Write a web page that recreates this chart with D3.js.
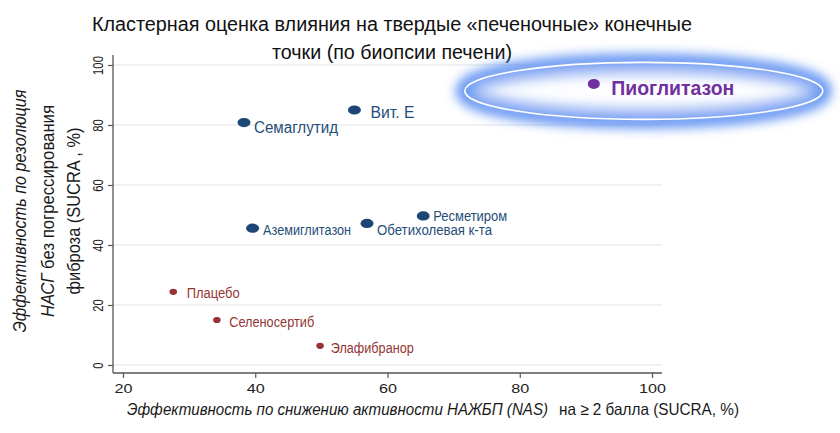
<!DOCTYPE html>
<html>
<head>
<meta charset="utf-8">
<script src="https://cdn.jsdelivr.net/npm/d3@7"></script>
<style>
  html, body { margin: 0; padding: 0; background: #fff; }
  svg { display: block; font-family: "Liberation Sans Narrow", "Liberation Sans", Arial, sans-serif; }
</style>
</head>
<body>
<svg id="chart" width="840" height="433"></svg>
<script>
// ---- data ----
const names = ["Пиоглитазон", "Вит. Е", "Семаглутид", "Аземиглитазон", "Обетихолевая к-та", "Ресметиром", "Плацебо", "Селеносертиб", "Элафибранор"];
const nasSucra = [91.2, 55.0, 38.3, 39.6, 56.9, 65.4, 27.6, 34.2, 49.8];
const fibSucra = [93.7, 85.0, 80.8, 45.6, 47.2, 49.7, 24.4, 15.0, 6.4];
const cluster = ["best", "good", "good", "good", "good", "good", "poor", "poor", "poor"];
const xTicks = [20, 40, 60, 80, 100];
const yTicks = [0, 20, 40, 60, 80, 100];
const titleLines = ["Кластерная оценка влияния на твердые «печеночные» конечные", "точки (по биопсии печени)"];

// ---- styles ----
const clusterStyle = {
  best: { dot: "#6f2f9f", text: "#7030a0", rx: 6, ry: 5, weight: "bold" },
  good: { dot: "#1b4675", text: "#1f4e79", rx: 6.5, ry: 4.6, weight: "normal" },
  poor: { dot: "#973236", text: "#943634", rx: 3.8, ry: 3.1, weight: "normal" }
};
// label placement relative to the point: dx, dy, width, font size
const labelLayout = {
  "Пиоглитазон": [17.5, 11, 123, 20],
  "Вит. Е": [16, 8, 44, 16],
  "Семаглутид": [10, 10, 84, 16],
  "Аземиглитазон": [10.5, 6.7, 88, 14],
  "Обетихолевая к-та": [10, 11.7, 115, 14],
  "Ресметиром": [10, 4.7, 74, 14],
  "Плацебо": [13.4, 6.3, 53, 14],
  "Селеносертиб": [12.3, 6.7, 85, 14],
  "Элафибранор": [10.7, 7.3, 83, 14]
};

const svg = d3.select("#chart");
const x = d3.scaleLinear().domain([20, 100]).range([123, 652]);
const y = d3.scaleLinear().domain([0, 100]).range([365, 65]);
const axisX = 113, axisY = 373;

// defs
const defs = svg.append("defs");
const f = defs.append("filter").attr("id", "glow")
  .attr("x", "-20%").attr("y", "-80%").attr("width", "140%").attr("height", "260%");
f.append("feGaussianBlur").attr("stdDeviation", 5.5);
const f2 = defs.append("filter").attr("id", "glow2")
  .attr("x", "-20%").attr("y", "-80%").attr("width", "140%").attr("height", "260%");
f2.append("feGaussianBlur").attr("stdDeviation", 7);

// gridlines
svg.append("g").selectAll("line").data(yTicks).join("line")
  .attr("x1", axisX).attr("x2", x(101.5))
  .attr("y1", d => y(d)).attr("y2", d => y(d))
  .attr("stroke", "#eaedf0").attr("stroke-width", 1.3);

// axes lines
svg.append("line").attr("x1", axisX).attr("x2", axisX)
  .attr("y1", axisY).attr("y2", y(103.3))
  .attr("stroke", "#555").attr("stroke-width", 1.3);
svg.append("line").attr("x1", axisX).attr("x2", x(101.5))
  .attr("y1", axisY).attr("y2", axisY)
  .attr("stroke", "#555").attr("stroke-width", 1.3);

// y axis
const gy = svg.append("g").attr("transform", `translate(${axisX},0)`)
  .call(d3.axisLeft(y).tickValues(yTicks).tickSize(5).tickSizeOuter(0));
gy.select(".domain").remove();
gy.selectAll(".tick line").attr("stroke", "#555").attr("stroke-width", 1.2);
gy.selectAll(".tick text")
  .attr("transform", "rotate(-90)")
  .attr("x", 0).attr("y", -10.5).attr("dy", null)
  .attr("text-anchor", "middle")
  .attr("font-size", 14).attr("fill", "#222")
  .attr("font-family", "'Liberation Sans', Arial, sans-serif")
  .attr("textLength", d => String(d).length * 6.3)
  .attr("lengthAdjust", "spacingAndGlyphs");

// x axis
const gx = svg.append("g").attr("transform", `translate(0,${axisY})`)
  .call(d3.axisBottom(x).tickValues(xTicks).tickSize(5).tickSizeOuter(0));
gx.select(".domain").remove();
gx.selectAll(".tick line").attr("stroke", "#555").attr("stroke-width", 1.2);
gx.selectAll(".tick text")
  .attr("y", 20).attr("dy", null)
  .attr("font-size", 13).attr("fill", "#222")
  .attr("font-family", "'Liberation Sans', Arial, sans-serif")
  .attr("textLength", d => String(d).length * 9)
  .attr("lengthAdjust", "spacingAndGlyphs");

// title
svg.append("text").attr("x", 392).attr("y", 31).attr("text-anchor", "middle")
  .attr("font-size", 20).attr("fill", "#111")
  .attr("textLength", 600).attr("lengthAdjust", "spacingAndGlyphs")
  .text(titleLines[0]);
svg.append("text").attr("x", 392).attr("y", 59).attr("text-anchor", "middle")
  .attr("font-size", 20).attr("fill", "#111")
  .attr("textLength", 240).attr("lengthAdjust", "spacingAndGlyphs")
  .text(titleLines[1]);

// y axis title (three rotated lines)
const yl = [
  { parts: [["Эффективность по резолюция", true]], cx: 26, len: 243 },
  { parts: [["НАСГ", true], [" без погрессирования", false]], cx: 54, len: 212 },
  { parts: [["фиброза (SUCRA , %)", false]], cx: 80, len: 167 }
];
yl.forEach(l => {
  const t = svg.append("text")
    .attr("transform", `translate(${l.cx},211) rotate(-90)`)
    .attr("text-anchor", "middle").attr("font-size", 17.5).attr("fill", "#1a1a1a")
    .attr("textLength", l.len).attr("lengthAdjust", "spacingAndGlyphs");
  l.parts.forEach(p => t.append("tspan").attr("font-style", p[1] ? "italic" : "normal").text(p[0]));
});

// x axis title (italic part + regular part)
svg.append("text").attr("x", 127).attr("y", 415)
  .attr("font-size", 16).attr("fill", "#1a1a1a").attr("font-style", "italic")
  .attr("textLength", 421).attr("lengthAdjust", "spacingAndGlyphs")
  .text("Эффективность по снижению активности  НАЖБП (NAS)");
svg.append("text").attr("x", 559).attr("y", 415)
  .attr("font-size", 16.5).attr("fill", "#1a1a1a")
  .attr("textLength", 180).attr("lengthAdjust", "spacingAndGlyphs")
  .text("на ≥ 2 балла (SUCRA, %)");

// highlight glow around the leading treatment
const pts = names.map((n, i) => ({ name: n, x: nasSucra[i], y: fibSucra[i], c: cluster[i] }));
const best = pts.find(p => p.c === "best");
const ecx = x(best.x) + 50, ecy = y(best.y) + 7, erx = 179, ery = 28.5;
const glow = svg.append("g");
glow.append("ellipse").attr("cx", ecx).attr("cy", ecy).attr("rx", erx).attr("ry", ery)
  .attr("fill", "#fff").attr("stroke", "#3f7cf0").attr("stroke-width", 18)
  .attr("stroke-opacity", 0.8).attr("filter", "url(#glow)");
glow.append("ellipse").attr("cx", ecx).attr("cy", ecy).attr("rx", erx - 10).attr("ry", ery - 8)
  .attr("fill", "none").attr("stroke", "#a9c4f7").attr("stroke-width", 10)
  .attr("stroke-opacity", 0.6).attr("filter", "url(#glow2)");
glow.append("ellipse").attr("cx", ecx).attr("cy", ecy).attr("rx", erx).attr("ry", ery)
  .attr("fill", "none").attr("stroke", "#ffffff").attr("stroke-width", 1.6);

// points
svg.append("g").selectAll("ellipse").data(pts).join("ellipse")
  .attr("cx", d => x(d.x)).attr("cy", d => y(d.y))
  .attr("rx", d => clusterStyle[d.c].rx).attr("ry", d => clusterStyle[d.c].ry)
  .attr("fill", d => clusterStyle[d.c].dot);

// labels
svg.append("g").selectAll("text").data(pts).join("text")
  .attr("x", d => x(d.x) + labelLayout[d.name][0])
  .attr("y", d => y(d.y) + labelLayout[d.name][1])
  .attr("font-size", d => labelLayout[d.name][3])
  .attr("font-weight", d => clusterStyle[d.c].weight)
  .attr("fill", d => clusterStyle[d.c].text)
  .attr("textLength", d => labelLayout[d.name][2])
  .attr("lengthAdjust", "spacingAndGlyphs")
  .text(d => d.name);
</script>
</body>
</html>
